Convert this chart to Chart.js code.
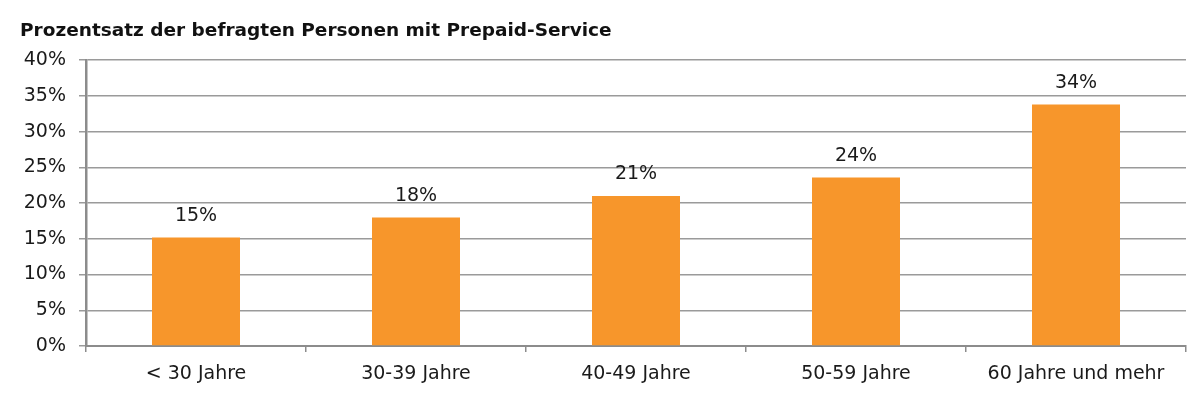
<!DOCTYPE html>
<html>
<head>
<meta charset="utf-8">
<script src="https://cdn.jsdelivr.net/npm/chart.js@4/dist/chart.umd.min.js"></script>
<style>
  html, body { margin: 0; padding: 0; background: #fff; }
  #wrap { width: 1200px; height: 397px; }
</style>
</head>
<body>
<div id="wrap"><canvas id="grafico-barra"></canvas></div>
<script>
// Daten
const kategorien = ['< 30 Jahre', '30-39 Jahre', '40-49 Jahre', '50-59 Jahre', '60 Jahre und mehr'];
const prozentwerte = [15.2, 18.0, 21.0, 23.6, 33.8];
const beschriftungen = ['15%', '18%', '21%', '24%', '34%'];
const yTicks = [0, 5, 10, 15, 20, 25, 30, 35, 40];

const schrift = 'DejaVu Sans, Verdana, sans-serif';

// Werte über den Balken zeichnen
const werteLabels = {
  id: 'werteLabels',
  afterDatasetsDraw(chart) {
    const ctx = chart.ctx;
    const meta = chart.getDatasetMeta(0);
    ctx.save();
    ctx.font = '19px ' + schrift;
    ctx.fillStyle = '#1a1a1a';
    ctx.textAlign = 'center';
    ctx.textBaseline = 'bottom';
    meta.data.forEach((bar, i) => {
      ctx.fillText(beschriftungen[i], bar.x, bar.y - 12);
    });
    ctx.restore();
  }
};

new Chart(document.getElementById('grafico-barra').getContext('2d'), {
  type: 'bar',
  data: {
    labels: kategorien,
    datasets: [{
      label: 'Prozentsatz',
      data: prozentwerte,
      backgroundColor: '#F7962B',
      barPercentage: 0.4,
      categoryPercentage: 1
    }]
  },
  options: {
    responsive: true,
    maintainAspectRatio: false,
    animation: false,
    layout: {
      padding: { left: 20, right: 14, top: 0, bottom: 0 }
    },
    plugins: {
      legend: { display: false },
      tooltip: { enabled: false },
      title: {
        display: true,
        text: 'Prozentsatz der befragten Personen mit Prepaid-Service',
        align: 'start',
        color: '#111',
        font: { family: schrift, size: 18.5, weight: 'bold' },
        padding: { top: 20, bottom: 18 }
      }
    },
    scales: {
      x: {
        grid: {
          display: true,
          drawOnChartArea: false,
          offset: true,
          color: '#8c8c8c',
          lineWidth: 1.5,
          tickLength: 6
        },
        border: { color: '#8c8c8c', width: 2 },
        ticks: {
          color: '#1a1a1a',
          padding: 13,
          maxRotation: 0,
          font: { family: schrift, size: 19, lineHeight: 1.0 }
        }
      },
      y: {
        min: 0,
        max: 40,
        afterBuildTicks(axis) {
          axis.ticks = yTicks.map(v => ({ value: v }));
        },
        afterFit(axis) {
          axis.width = 66;
        },
        grid: {
          color: '#9a9a9a',
          lineWidth: 1.5,
          tickLength: 7
        },
        border: { color: '#8c8c8c', width: 2.5 },
        ticks: {
          color: '#1a1a1a',
          padding: 13,
          font: { family: schrift, size: 19 },
          callback: v => v + '%'
        }
      }
    }
  },
  plugins: [werteLabels]
});
</script>
</body>
</html>
